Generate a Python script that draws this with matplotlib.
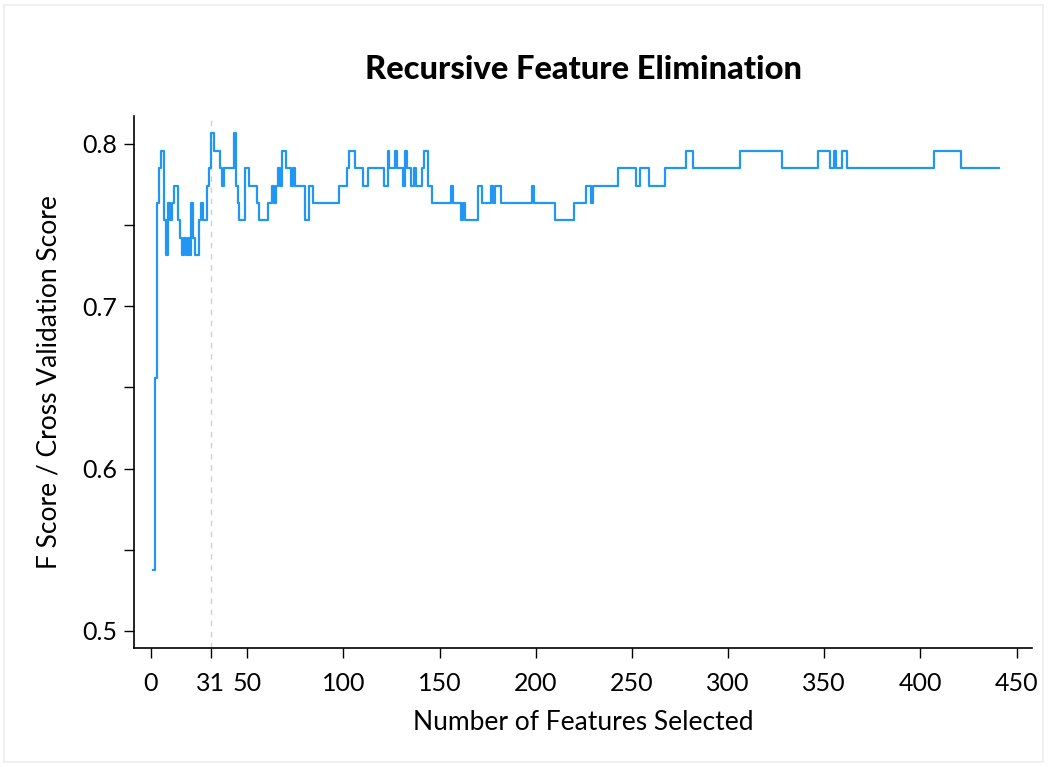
import matplotlib.pyplot as plt
import matplotlib.patches as patches
import numpy as np

# cross-validation score per number of selected features, stored as runs:
# score run_score[i] holds from run_start[i] up to the next run start
run_start = [1, 2, 3, 4, 5, 7, 8, 9, 10, 11, 12, 14, 15, 16, 17, 18, 19, 20,
             21, 22, 23, 25, 26, 27, 29, 30, 31, 33, 36, 37, 38, 43, 44, 45,
             46, 49, 51, 55, 56, 61, 63, 64, 65, 66, 67, 68, 70, 73, 74, 75,
             80, 82, 84, 98, 102, 103, 106, 110, 113, 121, 123, 124, 127, 128,
             131, 132, 133, 135, 137, 138, 141, 142, 144, 146, 156, 157, 161,
             162, 163, 170, 172, 177, 178, 179, 182, 198, 199, 210, 220, 226,
             229, 230, 243, 252, 254, 259, 267, 278, 282, 306, 328, 347, 353,
             355, 356, 359, 362, 407, 421]
run_score = [0.5376, 0.6559, 0.7634, 0.7849, 0.7957, 0.7527, 0.7312, 0.7634,
             0.7527, 0.7634, 0.7742, 0.7527, 0.7419, 0.7312, 0.7419, 0.7312,
             0.7419, 0.7312, 0.7634, 0.7419, 0.7312, 0.7527, 0.7634, 0.7527,
             0.7742, 0.7849, 0.8065, 0.7957, 0.7849, 0.7742, 0.7849, 0.8065,
             0.7742, 0.7634, 0.7527, 0.7849, 0.7742, 0.7634, 0.7527, 0.7634,
             0.7742, 0.7634, 0.7742, 0.7849, 0.7742, 0.7957, 0.7849, 0.7742,
             0.7849, 0.7742, 0.7527, 0.7742, 0.7634, 0.7742, 0.7849, 0.7957,
             0.7849, 0.7742, 0.7849, 0.7742, 0.7957, 0.7849, 0.7957, 0.7849,
             0.7742, 0.7957, 0.7849, 0.7742, 0.7849, 0.7742, 0.7849, 0.7957,
             0.7742, 0.7634, 0.7742, 0.7634, 0.7527, 0.7634, 0.7527, 0.7742,
             0.7634, 0.7742, 0.7634, 0.7742, 0.7634, 0.7742, 0.7634, 0.7527,
             0.7634, 0.7742, 0.7634, 0.7742, 0.7849, 0.7742, 0.7849, 0.7742,
             0.7849, 0.7957, 0.7849, 0.7957, 0.7849, 0.7957, 0.7849, 0.7957,
             0.7849, 0.7957, 0.7849, 0.7957, 0.7849]
n_features = 441
best_n = 31

x_ticks = [0, 31, 50, 100, 150, 200, 250, 300, 350, 400, 450]

run_len = np.diff(run_start + [n_features + 1])
scores = np.repeat(run_score, run_len)
n_selected = np.arange(1, n_features + 1)

plt.rcParams['font.family'] = ['Lato', 'DejaVu Sans']

fig = plt.figure(figsize=(10.48, 7.67), dpi=100)
ax = fig.add_axes([0.1279, 0.1551, 0.8568, 0.6936])

# thin frame round the whole figure
fig.patches.append(patches.Rectangle((0.004, 0.006), 0.991, 0.987, transform=fig.transFigure,
                                     fill=False, edgecolor='#eeeeee', linewidth=1.2))

ax.plot(n_selected, scores, drawstyle='steps-post', color='#2196f3', linewidth=1.6)
ax.axvline(best_n, color='#d0d0d0', linestyle='--', linewidth=1, dashes=(4, 4), zorder=0)

ax.set_xlim(-8.8, 458)
ax.set_ylim(0.4895, 0.817)
ax.set_xticks(x_ticks)
ax.set_yticks([0.5, 0.6, 0.7, 0.8])
ax.set_yticks([0.55, 0.65, 0.75], minor=True)

for side in ['top', 'right']:
	ax.spines[side].set_visible(False)
for side in ['left', 'bottom']:
	ax.spines[side].set_linewidth(1.2)

ax.tick_params(axis='both', which='both', direction='out', length=7, width=1, labelsize=18)
ax.tick_params(axis='x', pad=10)
ax.tick_params(axis='y', pad=5)

ax.set_title('Recursive Feature Elimination', fontsize=23.5, fontweight='black', pad=27)
ax.set_xlabel('Number of Features Selected', fontsize=19, labelpad=11)
ax.set_ylabel('F Score / Cross Validation Score', fontsize=19, labelpad=15)

plt.savefig('out.png', dpi=100)
plt.close()
